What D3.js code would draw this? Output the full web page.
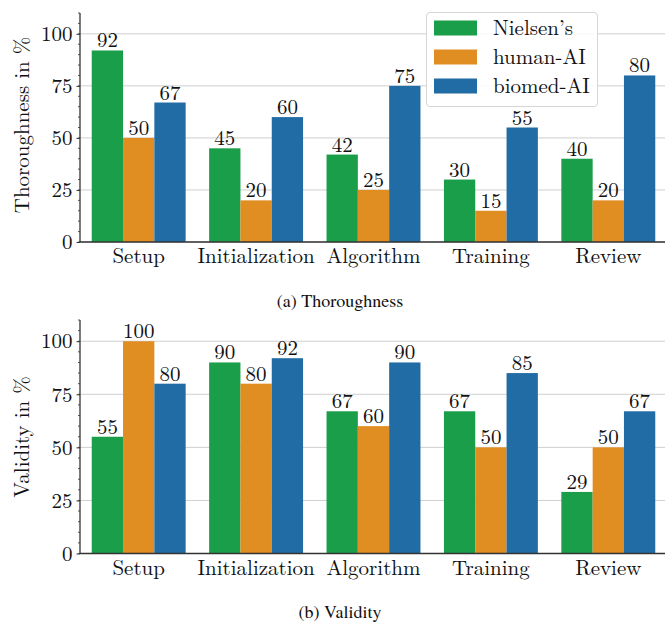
<!DOCTYPE html>
<html>
<head>
<meta charset="utf-8">
<script src="https://cdn.jsdelivr.net/npm/d3@7"></script>
<style>
  body { margin: 0; background: #fff; }
</style>
</head>
<body>
<svg id="chart" width="665" height="622"></svg>
<script>
// chart data
var categories = ["Setup", "Initialization", "Algorithm", "Training", "Review"];
var seriesNames = ["Nielsen\u2019s", "human-AI", "biomed-AI"];
var colors = ["#1b9e4a", "#e08d22", "#226ca5"];

var thoroughNielsen = [92, 45, 42, 30, 40];
var thoroughHumanAI = [50, 20, 25, 15, 20];
var thoroughBiomedAI = [67, 60, 75, 55, 80];

var validNielsen = [55, 90, 67, 67, 29];
var validHumanAI = [100, 80, 60, 50, 50];
var validBiomedAI = [80, 92, 90, 85, 67];

var yTicks = [0, 25, 50, 75, 100];
var serif = "'Latin Modern Roman', 'CMU Serif', 'Liberation Serif', 'DejaVu Serif', 'Noto Serif', Tinos, FreeSerif, " +
    "'Nimbus Roman', 'Nimbus Roman No9 L', 'TeX Gyre Termes', 'Times New Roman', Times, Georgia, serif";
// captions are set in a Times-like face in the original
var captionFont = "'TeX Gyre Termes', 'Nimbus Roman', 'Nimbus Roman No9 L', FreeSerif, Tinos, 'Times New Roman', " + serif;

var svg = d3.select("#chart");

// draws one bar panel
function drawPanel(opts) {
    var series = opts.series;
    var x0 = d3.scaleBand()
        .domain(categories)
        .range([80, 667])
        .paddingInner(0.2)
        .paddingOuter(0.1);
    var x1 = d3.scaleBand()
        .domain(d3.range(series.length))
        .range([0, x0.bandwidth()]);
    var y = d3.scaleLinear()
        .domain([0, 110])
        .range([opts.bottom, opts.top]);

    var g = svg.append("g");

    // grid lines
    g.selectAll(".grid").data(yTicks).enter().append("line")
        .attr("x1", 80).attr("x2", 667)
        .attr("y1", function(d) { return y(d); })
        .attr("y2", function(d) { return y(d); })
        .attr("stroke", "#cfcfcf")
        .attr("stroke-width", 1);

    // bars
    series.forEach(function(vals, si) {
        g.selectAll(".bar" + si).data(vals).enter().append("rect")
            .attr("x", function(d, i) { return x0(categories[i]) + x1(si); })
            .attr("y", function(d) { return y(d); })
            .attr("width", x1.bandwidth())
            .attr("height", function(d) { return y(0) - y(d); })
            .attr("fill", colors[si]);

        g.selectAll(".lbl" + si).data(vals).enter().append("text")
            .attr("x", function(d, i) { return x0(categories[i]) + x1(si) + x1.bandwidth() / 2; })
            .attr("y", function(d) { return y(d) - 3; })
            .attr("text-anchor", "middle")
            .attr("fill", "#111")
            .style("font-family", serif)
            .style("font-size", "21px")
            .text(function(d) { return d; });
    });

    // y axis with minor ticks
    var minor = d3.range(0, 111, 5);
    g.selectAll(".minor").data(minor).enter().append("line")
        .attr("x1", 78).attr("x2", 80)
        .attr("y1", function(d) { return y(d); })
        .attr("y2", function(d) { return y(d); })
        .attr("stroke", "#333").attr("stroke-width", 0.8);

    var yAxis = d3.axisLeft(y).tickValues(yTicks).tickSize(3.5).tickPadding(4);
    var ya = g.append("g")
        .attr("transform", "translate(80,0)")
        .call(yAxis)
        .attr("font-family", null)
        .attr("font-size", null);
    ya.select(".domain").remove();
    ya.selectAll(".tick line").attr("stroke", "#333");
    ya.selectAll("text")
        .style("font-family", serif)
        .style("font-size", "21px")
        .attr("fill", "#111");

    // spines
    g.append("line")
        .attr("x1", 80).attr("x2", 80)
        .attr("y1", y(110)).attr("y2", y(0))
        .attr("stroke", "#333").attr("stroke-width", 1.3);
    g.append("line")
        .attr("x1", 80).attr("x2", 667)
        .attr("y1", y(0)).attr("y2", y(0))
        .attr("stroke", "#333").attr("stroke-width", 1.3);

    // category labels
    g.selectAll(".cat").data(categories).enter().append("text")
        .attr("x", function(d) { return x0(d) + x0.bandwidth() / 2; })
        .attr("y", y(0) + 21)
        .attr("text-anchor", "middle")
        .attr("fill", "#111")
        .style("font-family", serif)
        .style("font-size", "21px")
        .text(function(d) { return d; });

    // y label
    g.append("text")
        .attr("transform", "translate(29," + opts.labelY + ") rotate(-90)")
        .attr("text-anchor", "middle")
        .attr("fill", "#111")
        .style("font-family", serif)
        .style("font-size", "21px")
        .text(opts.yLabel);

    // caption
    g.append("text")
        .attr("x", 340)
        .attr("y", opts.captionY)
        .attr("text-anchor", "middle")
        .attr("fill", "#111")
        .style("font-family", captionFont)
        .style("font-size", "18px")
        .text(opts.caption);

    return g;
}

drawPanel({
    series: [thoroughNielsen, thoroughHumanAI, thoroughBiomedAI],
    top: 13, bottom: 242,
    yLabel: "Thoroughness in %", labelY: 125,
    caption: "(a) Thoroughness", captionY: 306.5
});

drawPanel({
    series: [validNielsen, validHumanAI, validBiomedAI],
    top: 320, bottom: 553.5,
    yLabel: "Validity in %", labelY: 437,
    caption: "(b) Validity", captionY: 617.5
});

// legend
var legend = svg.append("g");
legend.append("rect")
    .attr("x", 426.5).attr("y", 12.5)
    .attr("width", 171).attr("height", 94)
    .attr("rx", 3.5)
    .attr("fill", "#fff").attr("fill-opacity", 0.85)
    .attr("stroke", "#d6d6d6").attr("stroke-width", 1);

seriesNames.forEach(function(name, i) {
    var cy = 28 + i * 29;
    legend.append("rect")
        .attr("x", 434).attr("y", cy - 7.5)
        .attr("width", 43).attr("height", 15)
        .attr("fill", colors[i]);
    legend.append("text")
        .attr("x", 493).attr("y", cy + 7)
        .attr("fill", "#111")
        .style("font-family", serif)
        .style("font-size", "21px")
        .text(name);
});
</script>
</body>
</html>
